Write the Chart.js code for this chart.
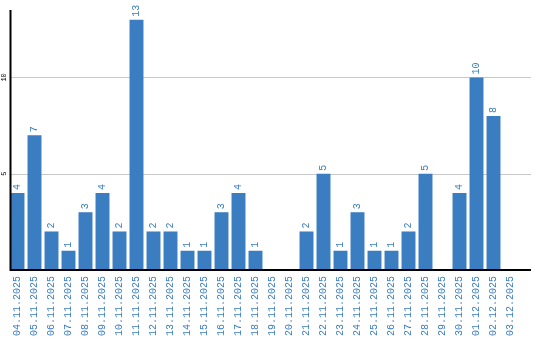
<!DOCTYPE html>
<html>
<head>
<meta charset="utf-8">
<script src="https://cdn.jsdelivr.net/npm/chart.js@4/dist/chart.umd.min.js"></script>
<style>
  html, body { margin: 0; padding: 0; background: #fff; }
</style>
</head>
<body>
<canvas id="c" width="540" height="340"></canvas>
<script>
// jours et nombre par jour
const days = ['04.11.2025', '05.11.2025', '06.11.2025', '07.11.2025', '08.11.2025', '09.11.2025',
  '10.11.2025', '11.11.2025', '12.11.2025', '13.11.2025', '14.11.2025', '15.11.2025',
  '16.11.2025', '17.11.2025', '18.11.2025', '19.11.2025', '20.11.2025', '21.11.2025',
  '22.11.2025', '23.11.2025', '24.11.2025', '25.11.2025', '26.11.2025', '27.11.2025',
  '28.11.2025', '29.11.2025', '30.11.2025', '01.12.2025', '02.12.2025', '03.12.2025'];
const counts = [4, 7, 2, 1, 3, 4, 2, 13, 2, 2, 1, 1, 3, 4, 1, 0, 0, 2, 5, 1, 3, 1, 1, 2, 5, 0, 4, 10, 8, 0];
const yTicks = [5, 10];

const BLUE = '#3a7dc1';
const MONO = '"Liberation Mono", "DejaVu Sans Mono", monospace';
const EXTRA = 12; // les lignes dépassent un peu à droite

// grille, axes, étiquettes tournées
const drawExtras = {
    id: 'drawExtras',
    beforeDatasetsDraw(chart) {
        const { ctx, chartArea: a, scales } = chart;
        ctx.save();
        ctx.strokeStyle = '#c8c8c8';
        ctx.lineWidth = 1;
        yTicks.forEach(v => {
            const y = Math.round(scales.y.getPixelForValue(v)) + 0.5;
            ctx.beginPath();
            ctx.moveTo(a.left, y);
            ctx.lineTo(a.right + EXTRA, y);
            ctx.stroke();
        });
        ctx.restore();
    },
    afterDatasetsDraw(chart) {
        const { ctx, chartArea: a, scales } = chart;
        const x0 = a.left + 1.5;
        ctx.save();
        // axes
        ctx.strokeStyle = '#000';
        ctx.lineWidth = 2;
        ctx.beginPath();
        ctx.moveTo(x0, a.top);
        ctx.lineTo(x0, a.bottom);
        ctx.lineTo(a.right + EXTRA, a.bottom);
        ctx.stroke();

        // graduations y
        ctx.fillStyle = '#000';
        ctx.font = '7px ' + MONO;
        ctx.textAlign = 'center';
        ctx.textBaseline = 'middle';
        yTicks.forEach(v => {
            ctx.save();
            ctx.translate(x0 - 6, scales.y.getPixelForValue(v));
            ctx.rotate(-Math.PI / 2);
            ctx.fillText(String(v), 0, 0);
            ctx.restore();
        });

        // valeurs au-dessus des barres
        ctx.fillStyle = BLUE;
        ctx.font = '10px ' + MONO;
        ctx.textAlign = 'left';
        ctx.textBaseline = 'middle';
        chart.getDatasetMeta(0).data.forEach((bar, i) => {
            if (!counts[i]) return;
            ctx.save();
            ctx.translate(bar.x, bar.y - 3);
            ctx.rotate(-Math.PI / 2);
            ctx.fillText(String(counts[i]), 0, 0);
            ctx.restore();
        });
        ctx.restore();
    }
};

new Chart(document.getElementById('c'), {
    type: 'bar',
    data: {
        labels: days,
        datasets: [{
            data: counts,
            backgroundColor: BLUE,
            borderWidth: 0,
            barPercentage: 0.82,
            categoryPercentage: 1
        }]
    },
    options: {
        responsive: false,
        animation: false,
        layout: { padding: { left: 9, right: 21, top: 10, bottom: 0 } },
        plugins: { legend: { display: false }, tooltip: { enabled: false } },
        scales: {
            x: {
                offset: true,
                grid: { display: false, drawTicks: false },
                border: { display: false },
                ticks: {
                    autoSkip: false,
                    minRotation: 90,
                    maxRotation: 90,
                    padding: 6,
                    color: BLUE,
                    font: { family: MONO, size: 10 }
                },
                afterFit: s => { s.height = 70; }
            },
            y: {
                min: 0,
                max: 13.5,
                grid: { display: false, drawTicks: false },
                border: { display: false },
                ticks: { display: false },
                afterFit: s => { s.width = 0; }
            }
        }
    },
    plugins: [drawExtras]
});
</script>
</body>
</html>
